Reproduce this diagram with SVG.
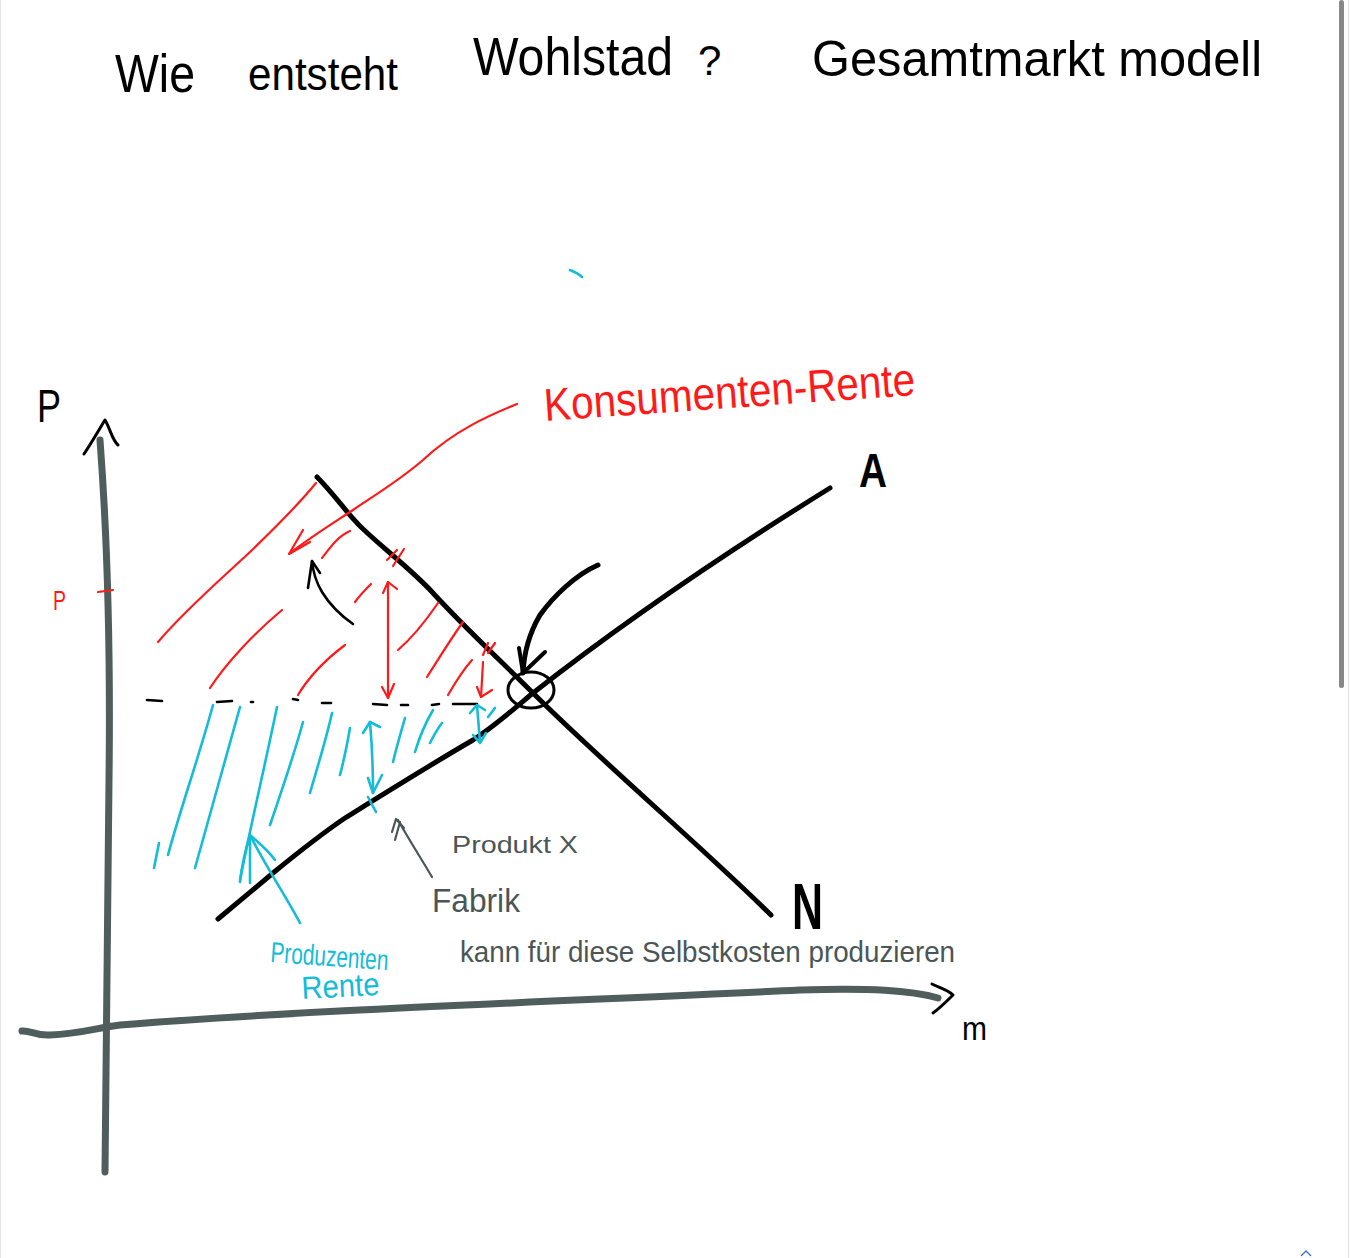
<svg xmlns="http://www.w3.org/2000/svg" width="1350" height="1258" viewBox="0 0 1350 1258">
<style>
.hand{font-family:"Liberation Sans","DejaVu Sans",sans-serif;}
.blk{fill:none;stroke:#000;stroke-linecap:round;stroke-linejoin:round;}
.red{fill:none;stroke:#ff1a1a;stroke-width:2.2;stroke-linecap:round;stroke-linejoin:round;}
.cyan{fill:none;stroke:#14bcd8;stroke-width:2.6;stroke-linecap:round;stroke-linejoin:round;}
.axis{fill:none;stroke:#4f5d5d;stroke-width:7;stroke-linecap:round;stroke-linejoin:round;}
.note{fill:none;stroke:#4a5656;stroke-width:2.2;stroke-linecap:round;stroke-linejoin:round;}
</style>
<rect x="0" y="0" width="1350" height="1258" fill="#ffffff"/>
<line x1="0.5" y1="0" x2="0.5" y2="1258" stroke="#e3e6ee" stroke-width="1"/>
<line x1="1348.5" y1="0" x2="1348.5" y2="1258" stroke="#e0e0e0" stroke-width="1"/>
<rect x="1339" y="0" width="5" height="688" rx="2.5" fill="#888"/>
<path d="M1301 1256 L1306 1251 L1311 1256" fill="none" stroke="#3b6fe0" stroke-width="1.3"/>

<g id="title" class="hand" fill="#000">
  <text x="115" y="92" font-size="54" textLength="80" lengthAdjust="spacingAndGlyphs">Wie</text>
  <text x="248" y="90" font-size="46" textLength="150" lengthAdjust="spacingAndGlyphs">entsteht</text>
  <text x="473" y="75" font-size="54" textLength="200" lengthAdjust="spacingAndGlyphs">Wohlstad</text>
  <text x="698" y="75" font-size="42">?</text>
  <text x="812" y="76" font-size="50" textLength="450" lengthAdjust="spacingAndGlyphs">Gesamtmarkt modell</text>
</g>

<g id="axes">
  <path class="axis" d="M100 440 C106 520 111 620 109 780 C107 920 105 1060 105 1172"/>
  <path class="blk" stroke-width="3" d="M84 454 C92 442 100 428 105 420 C110 428 112 440 118 445"/>
  <path class="axis" d="M22 1031 C30 1030 36 1036 50 1035 C80 1034 96 1028 120 1025 C300 1010 600 1000 800 990 C870 988 910 990 938 998"/>
  <path class="blk" stroke-width="3" d="M932 984 C940 988 948 990 953 995 C946 1002 940 1008 933 1013"/>
  <text id="label-p" class="hand" x="37" y="422" font-size="46" textLength="24" lengthAdjust="spacingAndGlyphs">P</text>
  <text id="label-m" class="hand" x="962" y="1040" font-size="34" textLength="25" lengthAdjust="spacingAndGlyphs">m</text>
  <text id="label-p-red" class="hand" x="53" y="610" font-size="27" fill="#ff1a1a" textLength="13" lengthAdjust="spacingAndGlyphs">P</text>
  <path class="red" stroke-width="2.4" d="M98 592 L113 590"/>
</g>

<g id="curve-N">
  <path class="blk" stroke-width="5" d="M317 477 C335 495 348 515 362 528 C385 550 412 570 433 593 C465 628 500 660 533 693 C600 760 700 845 771 915"/>
  <text class="hand" x="792" y="929" font-size="64" textLength="31" lengthAdjust="spacingAndGlyphs" font-weight="bold">N</text>
</g>

<g id="curve-A">
  <path class="blk" stroke-width="5" d="M218 919 C235 905 255 888 273 873 C295 855 320 835 345 818 C390 790 430 765 473 740 C495 726 515 708 533 693 C620 625 730 550 830 488"/>
  <text class="hand" x="859" y="487" font-size="48" textLength="28" lengthAdjust="spacingAndGlyphs" font-weight="bold">A</text>
</g>

<g id="equilibrium">
  <ellipse cx="531" cy="690" rx="23" ry="18" fill="none" stroke="#000" stroke-width="3"/>
</g>

<g id="price-line">
  <path class="blk" stroke-width="2.6" d="M147 700 L162 701 M217 702 L232 701 M251 702 L253 702 M293 699 L298 700 M322 703 L331 703 M373 704 L387 705 M401 705 L408 705 M432 705 L439 704 M453 704 L477 704"/>
</g>

<g id="consumer-surplus">
  <path class="red" d="M158 642 C185 610 220 580 250 552 C275 528 298 505 316 483"/>
  <path class="red" d="M210 688 C225 665 252 635 282 610"/>
  <path class="red" d="M298 695 C310 675 325 660 345 645"/>
  <path class="red" d="M322 558 C330 548 338 536 350 531"/>
  <path class="red" d="M355 602 C360 595 365 590 371 584"/>
  <path class="red" d="M398 650 C412 638 425 622 438 603"/>
  <path class="red" d="M427 677 C438 660 450 640 463 622"/>
  <path class="red" d="M448 695 C455 683 463 670 472 660"/>
  <path class="red" d="M387 560 L397 550 M393 566 L404 549"/>
  <path class="red" d="M483 655 L488 643 M488 653 L495 643"/>
  <text class="hand" x="545" y="421" font-size="46" fill="#ff1a1a" textLength="372" lengthAdjust="spacingAndGlyphs" transform="rotate(-4 545 421)">Konsumenten-Rente</text>
</g>

<g id="producer-surplus">
  <path class="cyan" d="M154 868 L159 843"/>
  <path class="cyan" d="M168 855 C180 810 198 760 213 705"/>
  <path class="cyan" d="M195 868 C210 815 225 760 240 707"/>
  <path class="cyan" d="M240 880 C252 820 265 765 277 707"/>
  <path class="cyan" d="M270 825 C282 790 294 755 303 722"/>
  <path class="cyan" d="M310 793 C318 765 326 740 332 713"/>
  <path class="cyan" d="M340 775 C344 760 347 745 350 728"/>
  <path class="cyan" d="M393 762 C397 745 401 732 405 718"/>
  <path class="cyan" d="M415 752 C420 735 426 722 433 710"/>
  <path class="cyan" d="M430 743 C434 735 438 728 442 723"/>
  <path class="cyan" d="M488 717 L495 708"/>
  <path class="cyan" stroke-width="4" d="M368 797 L376 812"/>
  <path class="cyan" stroke-width="3" d="M570 270 C575 272 579 274 582 277"/>
  <text class="hand" x="270" y="962" font-size="29" fill="#14bcd8" textLength="118" lengthAdjust="spacingAndGlyphs" transform="rotate(4 270 962)">Produzenten</text>
  <text class="hand" x="302" y="999" font-size="32" fill="#14bcd8" textLength="78" lengthAdjust="spacingAndGlyphs" transform="rotate(-3 302 999)">Rente</text>
</g>

<g id="annotation-fabrik">
  <text class="hand" x="452" y="853" font-size="24" fill="#4a5656" textLength="126" lengthAdjust="spacingAndGlyphs">Produkt X</text>
  <text class="hand" x="432" y="912" font-size="34" fill="#4a5656" textLength="88" lengthAdjust="spacingAndGlyphs">Fabrik</text>
  <text class="hand" x="460" y="962" font-size="29" fill="#4a5656" textLength="495" lengthAdjust="spacingAndGlyphs">kann für diese Selbstkosten produzieren</text>
</g>

<g id="connectors">
  <path class="red" d="M517 404 C490 415 455 430 423 460 C400 480 375 495 353 510 C335 522 318 532 290 553"/>
  <path class="red" d="M303 530 L289 554 L310 542"/>
  <path class="red" d="M388 582 L388 698"/>
  <path class="red" d="M383 593 L388 582 L397 589"/>
  <path class="red" d="M382 687 L388 698 L394 684"/>
  <path class="red" d="M483 662 L481 697"/>
  <path class="red" d="M477 687 L481 697 L492 690"/>
  <path class="blk" stroke-width="5" d="M598 565 C575 575 553 597 540 615 C530 632 524 652 523 673"/>
  <path class="blk" stroke-width="4" d="M519 648 L523 673 L545 652"/>
  <path class="blk" stroke-width="2.6" d="M353 624 C340 615 330 605 322 592 C316 582 313 572 312 561"/>
  <path class="blk" stroke-width="2.6" d="M308 588 L312 561 L320 573"/>
  <path class="cyan" d="M370 722 C372 745 373 770 373 793"/>
  <path class="cyan" d="M363 733 L370 722 L380 727"/>
  <path class="cyan" d="M368 778 L373 793 L382 775"/>
  <path class="cyan" stroke-width="4" d="M477 705 L480 742"/>
  <path class="cyan" stroke-width="3.5" d="M470 713 L477 705 L485 710 M473 735 L480 743 L486 733"/>
  <path class="cyan" d="M300 923 C285 895 265 865 250 835"/>
  <path class="cyan" d="M240 882 C242 865 246 848 250 835 C258 842 268 850 275 860 M250 835 L250 883"/>
  <path class="note" d="M432 877 C422 860 408 838 398 820"/>
  <path class="note" d="M392 832 L396 819 L404 828 M395 840 L400 822"/>
</g>
</svg>
